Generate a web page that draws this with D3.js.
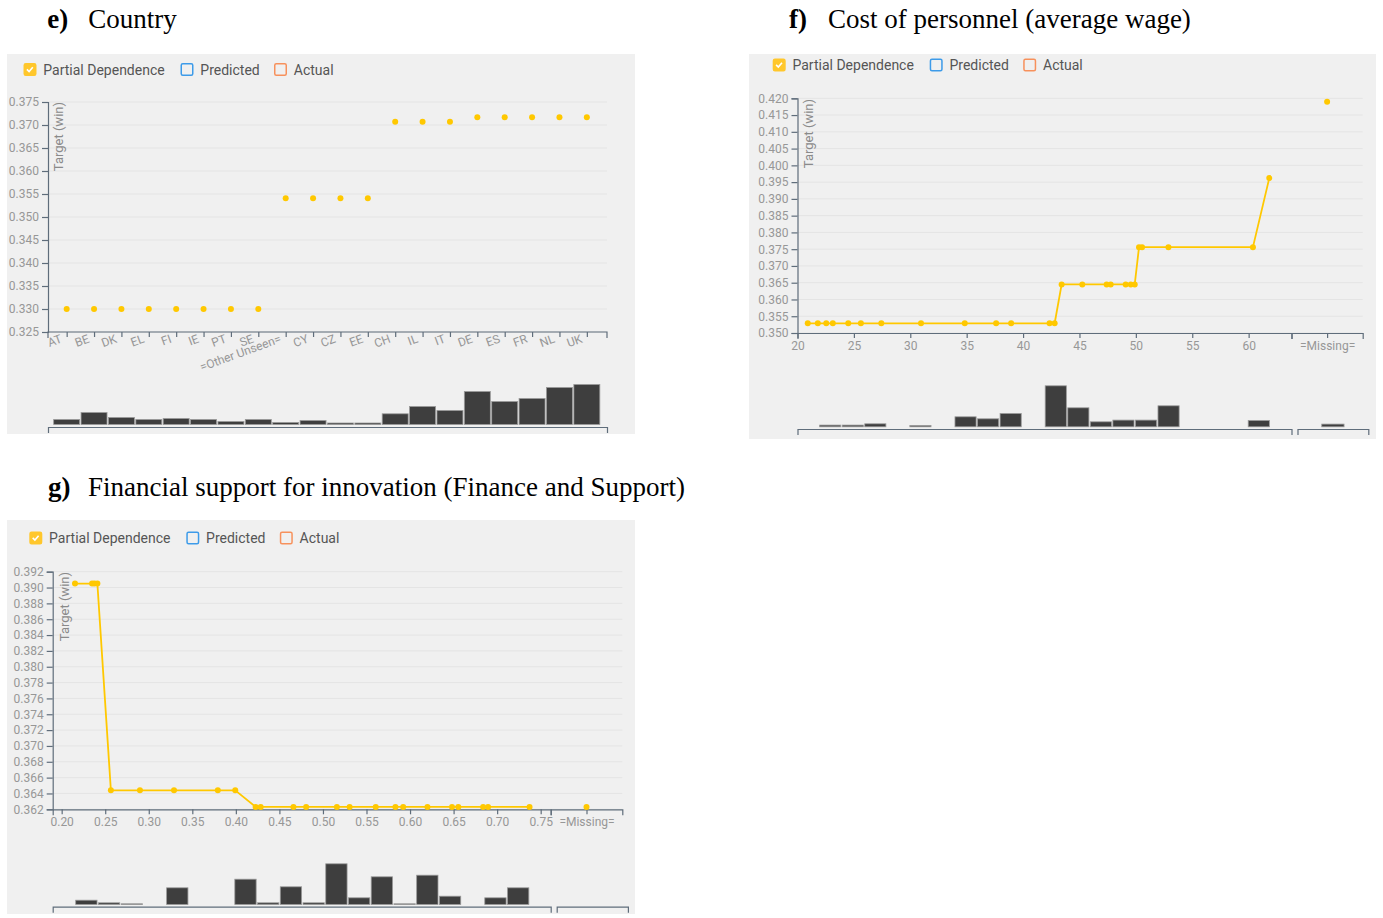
<!DOCTYPE html>
<html>
<head>
<meta charset="utf-8">
<script src="https://cdn.jsdelivr.net/npm/d3@7"></script>
<style>
  body { margin: 0; background: #ffffff; }
  svg text { font-family: Roboto, "Noto Sans", sans-serif; }
</style>
</head>
<body>
<svg id="chart" width="1383" height="918"></svg>
<script>
// ---------------- DATA ----------------
// e) Country
const countryCategories = ["AT","BE","DK","EL","FI","IE","PT","SE","=Other Unseen=","CY","CZ","EE","CH","IL","IT","DE","ES","FR","NL","UK"];
const countryPD = [0.330,0.330,0.330,0.330,0.330,0.330,0.330,0.330,0.3541,0.3541,0.3541,0.3541,0.3707,0.3707,0.3707,0.3717,0.3717,0.3717,0.3717,0.3717];
const countryHist = [5,12,7,5,6,5,3,5,2,4,1.5,1.5,10.7,18,14,33,23,26,37,40];
const countryYTicks = [0.325,0.330,0.335,0.340,0.345,0.350,0.355,0.360,0.365,0.370,0.375];

// f) Cost of personnel (average wage)
const wageX = [20.91,21.80,22.55,23.13,24.50,25.62,27.43,30.95,34.83,37.61,38.94,42.35,42.80,
               43.42,45.25,47.41,47.77,49.10,49.55,49.90,
               50.28,50.55,52.89,60.38,
               61.83];
const wagePD = [0.3529,0.3529,0.3529,0.3529,0.3529,0.3529,0.3529,0.3529,0.3529,0.3529,0.3529,0.3529,0.3529,
                0.3645,0.3645,0.3645,0.3645,0.3645,0.3645,0.3645,
                0.3756,0.3756,0.3756,0.3756,
                0.3962];
const wageMissingPD = 0.419;
const wageBinStart = [21.9,23.9,25.9,29.9,33.9,35.9,37.9,41.9,43.9,45.9,47.9,49.9,51.9,59.9];
const wageBinWidth = 2;
const wageHist = [1.7,1.7,3,1.3,10,8,13.3,41,19,5,6.7,6.7,21,6.3];
const wageMissingHist = 2.7;
const wageXTicks = [20,25,30,35,40,45,50,55,60];
const wageYTicks = [0.350,0.355,0.360,0.365,0.370,0.375,0.380,0.385,0.390,0.395,0.400,0.405,0.410,0.415,0.420];

// g) Financial support for innovation (Finance and Support)
const finX = [0.2153,0.2349,0.2376,0.2410,
              0.2565,0.2899,0.3290,0.3793,0.3993,
              0.4227,0.4285,0.4661,0.4807,0.5160,0.5306,0.5606,0.5832,0.5921,0.6200,0.6482,0.6554,0.6839,0.6896,0.7372];
const finPD = [0.3905,0.3905,0.3905,0.3905,
               0.3644,0.3644,0.3644,0.3644,0.3644,
               0.3623,0.3623,0.3623,0.3623,0.3623,0.3623,0.3623,0.3623,0.3623,0.3623,0.3623,0.3623,0.3623,0.3623,0.3623];
const finMissingPD = 0.3623;
const finBinStart = [0.2153,0.2414,0.2675,0.2936,0.3197,0.3458,0.3719,0.3980,0.4241,0.4502,
                     0.4763,0.5024,0.5285,0.5546,0.5807,0.6068,0.6329,0.6589,0.6850,0.7111];
const finBinWidth = 0.0261;
const finHist = [4.3,1.7,0.7,0,16.7,0,0,25.3,1.7,17.7,1.7,40.7,6.7,27.7,0.7,29.3,8.3,0,6.7,16.7];
const finMissingHist = 0;
const finXTicks = [0.20,0.25,0.30,0.35,0.40,0.45,0.50,0.55,0.60,0.65,0.70,0.75];
const finYTicks = [0.362,0.364,0.366,0.368,0.370,0.372,0.374,0.376,0.378,0.380,0.382,0.384,0.386,0.388,0.390,0.392];

const MISSING = ["=Missing="];

// ---------------- STYLE ----------------
const C = {
  bg: "#f0f0f0", axis: "#5f6d7b", tick: "#979797", grid: "#e4e4e4",
  pd: "#ffc800", bar: "#3e3e3e", barStroke: "#9a9a9a", legend: "#555555",
  ylabel: "#8a8a8a", pred: "#3d9be9", actual: "#f7915c", check: "#ffc72c"
};

const svg = d3.select("#chart");
svg.append("rect").attr("width", 1383).attr("height", 918).attr("fill", "#fff");

const histH = d3.scaleLinear().domain([0, 41]).range([0, 41]);

function drawTitle(lx, tx, y, letter, text) {
  const t = svg.append("text").attr("y", y)
    .style("font-family", "'Liberation Serif','Times New Roman',serif")
    .style("font-size", "27px").attr("fill", "#000");
  t.append("tspan").attr("x", lx).style("font-weight", "bold").text(letter);
  t.append("tspan").attr("x", tx).text(text);
}

function drawLegend(g, x, y) {
  const items = [
    { label: "Partial Dependence", dx: 0, color: C.check, checked: true },
    { label: "Predicted", dx: 157, color: C.pred },
    { label: "Actual", dx: 250.5, color: C.actual }
  ];
  items.forEach(it => {
    const bx = x + it.dx;
    g.append("rect").attr("x", bx + 0.75).attr("y", y + 0.75)
      .attr("width", 11.5).attr("height", 11.5).attr("rx", 1.5)
      .attr("fill", it.checked ? it.color : "none")
      .attr("stroke", it.color).attr("stroke-width", 1.5);
    if (it.checked) {
      g.append("path")
        .attr("d", `M${bx + 3.4},${y + 6.4} L${bx + 5.6},${y + 8.6} L${bx + 9.3},${y + 4.3}`)
        .attr("fill", "none").attr("stroke", "#fff").attr("stroke-width", 1.6);
    }
    g.append("text").attr("x", bx + 19.8).attr("y", y + 11.5)
      .attr("font-size", 14).attr("fill", C.legend).text(it.label);
  });
}

function styleAxis(sel) {
  sel.attr("font-family", "Roboto, sans-serif").attr("font-size", 12);
  sel.select(".domain").attr("stroke", C.axis).attr("stroke-width", 1.2);
  sel.selectAll(".tick line").attr("stroke", C.axis).attr("stroke-width", 1.2);
  sel.selectAll(".tick text").attr("fill", C.tick);
  return sel;
}

function drawYAxis(g, y, ticks, x0, x1, labelPos) {
  g.append("g").selectAll("line").data(ticks).join("line")
    .attr("x1", x0).attr("x2", x1)
    .attr("y1", d => y(d)).attr("y2", d => y(d))
    .attr("stroke", C.grid).attr("stroke-width", 1);
  g.append("g").attr("transform", `translate(${x0},0)`)
    .call(d3.axisLeft(y).tickValues(ticks).tickFormat(d3.format(".3f")).tickSize(6).tickSizeOuter(6))
    .call(styleAxis);
  g.append("text")
    .attr("transform", `translate(${labelPos[0]},${labelPos[1]}) rotate(-90)`)
    .attr("text-anchor", "end").attr("font-size", 13).attr("fill", C.ylabel)
    .text("Target (win)");
}

function drawHistAxis(g, x0, x1, yPos) {
  const s = d3.scaleLinear().domain([0, 1]).range([x0, x1]);
  g.append("g").attr("transform", `translate(0,${yPos})`)
    .call(d3.axisBottom(s).tickValues([]).tickSizeOuter(6))
    .call(styleAxis);
}

// ---------------- TITLES ----------------
drawTitle(47.3, 88.3, 28.3, "e)", "Country");
drawTitle(789, 828, 28.3, "f)", "Cost of personnel (average wage)");
drawTitle(48, 88, 496, "g)", "Financial support for innovation (Finance and Support)");

// ---------------- PANEL e ----------------
(function () {
  const g = svg.append("g");
  g.append("rect").attr("x", 7).attr("y", 54).attr("width", 628).attr("height", 380).attr("fill", C.bg);
  drawLegend(g, 23.5, 63);
  const y = d3.scaleLinear().domain([0.325, 0.375]).range([332, 102]);
  const x = d3.scalePoint().domain(countryCategories).range([47.5, 606]).padding(0.7);
  drawYAxis(g, y, countryYTicks, 48, 607, [63, 102]);
  const xa = g.append("g").attr("transform", "translate(0,332)")
    .call(d3.axisBottom(x).tickSize(5).tickSizeOuter(6))
    .call(styleAxis);
  xa.select(".domain").attr("d", "M48,6V0H607V6");
  xa.selectAll(".tick text")
    .attr("text-anchor", "end").attr("x", -7.5).attr("y", 8).attr("dy", "0")
    .attr("transform", "rotate(-20)");
  g.append("g").selectAll("circle").data(countryCategories).join("circle")
    .attr("cx", d => x(d)).attr("cy", (d, i) => y(countryPD[i]))
    .attr("r", 3).attr("fill", C.pd);
  // histogram
  const base = 424.5;
  const bw = x.step() - 1.4;
  g.append("g").selectAll("rect").data(countryCategories).join("rect")
    .attr("x", d => x(d) - bw / 2).attr("width", bw)
    .attr("y", (d, i) => base - histH(countryHist[i]))
    .attr("height", (d, i) => histH(countryHist[i]))
    .attr("fill", C.bar).attr("stroke", C.barStroke).attr("stroke-width", 0.8);
  drawHistAxis(g, 48, 607, 427);
})();

// ---------------- generic numeric panel ----------------
function numericPanel(p) {
  const g = svg.append("g");
  g.append("rect").attr("x", p.bg[0]).attr("y", p.bg[1]).attr("width", p.bg[2]).attr("height", p.bg[3]).attr("fill", C.bg);
  drawLegend(g, p.legend[0], p.legend[1]);
  const y = d3.scaleLinear().domain(p.yDomain).range(p.yRange);
  const x = d3.scaleLinear().domain(p.xDomain).range([p.x0, p.xMainEnd]);
  const xm = d3.scalePoint().domain(MISSING).range([p.xMainEnd, p.xEnd]).padding(0.5);
  drawYAxis(g, y, p.yTicks, p.x0, p.xEnd, p.yLabelPos);
  const axisY = p.yRange[0];
  g.append("g").attr("transform", `translate(0,${axisY})`)
    .call(d3.axisBottom(x).tickValues(p.xTicks).tickFormat(d3.format(p.xFmt)).tickSize(5).tickSizeOuter(6))
    .call(styleAxis);
  g.append("g").attr("transform", `translate(0,${axisY})`)
    .call(d3.axisBottom(xm).tickSize(5).tickSizeOuter(6))
    .call(styleAxis);
  // line + points
  const pts = p.xs.map((v, i) => [v, p.pd[i]]);
  g.append("path").datum(pts)
    .attr("d", d3.line().x(d => x(d[0])).y(d => y(d[1])))
    .attr("fill", "none").attr("stroke", C.pd).attr("stroke-width", 1.8);
  g.append("g").selectAll("circle").data(pts).join("circle")
    .attr("cx", d => x(d[0])).attr("cy", d => y(d[1])).attr("r", 3).attr("fill", C.pd);
  g.append("circle").attr("cx", xm(MISSING[0])).attr("cy", y(p.missingPD)).attr("r", 3).attr("fill", C.pd);
  // histogram
  const base = p.histAxisY - 2.2;
  g.append("g").selectAll("rect").data(p.binStart).join("rect")
    .attr("x", d => x(d) + 0.7)
    .attr("width", d => x(d + p.binWidth) - x(d) - 1.4)
    .attr("y", (d, i) => base - histH(p.hist[i]))
    .attr("height", (d, i) => histH(p.hist[i]))
    .attr("fill", C.bar).attr("stroke", C.barStroke).attr("stroke-width", 0.8);
  const mx0 = p.xMainEnd + 6, mx1 = p.xEnd + 5.6;
  const mc = (mx0 + mx1) / 2, mw = 22.3;
  if (p.missingHist > 0) {
    g.append("rect").attr("x", mc - mw / 2).attr("width", mw)
      .attr("y", base - histH(p.missingHist)).attr("height", histH(p.missingHist))
      .attr("fill", C.bar).attr("stroke", C.barStroke).attr("stroke-width", 0.8);
  }
  drawHistAxis(g, p.x0, p.xMainEnd, p.histAxisY);
  drawHistAxis(g, mx0, mx1, p.histAxisY);
}

// ---------------- PANEL f ----------------
numericPanel({
  bg: [749, 54, 627, 385], legend: [772.7, 58.5],
  yDomain: [0.350, 0.420], yRange: [333, 98.3], yTicks: wageYTicks, yLabelPos: [813, 99],
  xDomain: [20, 63.8], x0: 797.5, xMainEnd: 1291.5, xEnd: 1362.7,
  xTicks: wageXTicks, xFmt: "d",
  xs: wageX, pd: wagePD, missingPD: wageMissingPD,
  binStart: wageBinStart, binWidth: wageBinWidth, hist: wageHist, missingHist: wageMissingHist,
  histAxisY: 429
});

// ---------------- PANEL g ----------------
numericPanel({
  bg: [7, 520, 628, 394], legend: [29.3, 531.5],
  yDomain: [0.362, 0.392], yRange: [809.3, 571.7], yTicks: finYTicks, yLabelPos: [69, 572],
  xDomain: [0.1897, 0.7615], x0: 52.7, xMainEnd: 550.7, xEnd: 622.3,
  xTicks: finXTicks, xFmt: ".2f",
  xs: finX, pd: finPD, missingPD: finMissingPD,
  binStart: finBinStart, binWidth: finBinWidth, hist: finHist, missingHist: finMissingHist,
  histAxisY: 906.7
});
</script>
</body>
</html>
